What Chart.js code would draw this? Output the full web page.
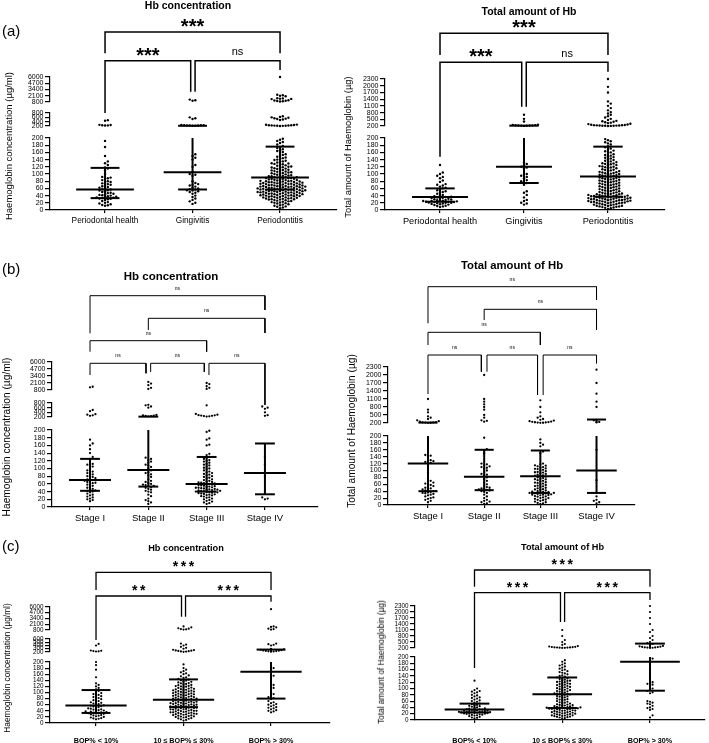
<!DOCTYPE html>
<html><head><meta charset="utf-8">
<script src="https://cdn.jsdelivr.net/npm/chart.js@4"></script>
<style>
html,body{margin:0;padding:0;background:#fff;}
#page{position:relative;width:709px;height:743px;overflow:hidden;font-family:"Liberation Sans",Arial,sans-serif;color:#000}
canvas{position:absolute;left:0;top:0}
.t{position:absolute;transform:translate(-50%,-50%);white-space:nowrap;font-weight:bold;line-height:1}
.yt{position:absolute;transform:translate(-50%,-50%) rotate(-90deg);white-space:nowrap;line-height:1}
.p{position:absolute;transform:translate(0,-50%);line-height:1}
</style></head><body>
<div id="page">
<canvas id="cA1" width="709" height="743"></canvas>
<canvas id="cA2" width="709" height="743"></canvas>
<canvas id="cB1" width="709" height="743"></canvas>
<canvas id="cB2" width="709" height="743"></canvas>
<canvas id="cC1" width="709" height="743"></canvas>
<canvas id="cC2" width="709" height="743"></canvas>
<div class="t" style="left:188px;top:5px;font-size:10.5px">Hb concentration</div>
<div class="t" style="left:529px;top:10.5px;font-size:10.5px">Total amount of Hb</div>
<div class="t" style="left:171px;top:277px;font-size:11.5px">Hb concentration</div>
<div class="t" style="left:512px;top:265.5px;font-size:11.3px">Total amount of Hb</div>
<div class="t" style="left:186px;top:548.5px;font-size:9.2px">Hb concentration</div>
<div class="t" style="left:562.5px;top:548px;font-size:9.2px">Total amount of Hb</div>
<div class="p" style="left:2px;top:30px;font-size:15px">(a)</div>
<div class="p" style="left:2px;top:268px;font-size:15px">(b)</div>
<div class="p" style="left:2px;top:545px;font-size:15px">(c)</div>
<div class="yt" style="left:8.5px;top:146px;font-size:9.5px">Haemoglobin concentration (µg/ml)</div>
<div class="yt" style="left:348px;top:147px;font-size:9.4px">Total amount of Haemoglobin (µg)</div>
<div class="yt" style="left:7px;top:437px;font-size:10.2px">Haemoglobin concentration (µg/ml)</div>
<div class="yt" style="left:352px;top:431px;font-size:10.2px">Total amount of Haemoglobin (µg)</div>
<div class="yt" style="left:7px;top:668px;font-size:8.3px">Haemoglobin concentration (µg/ml)</div>
<div class="yt" style="left:382px;top:662px;font-size:8.2px">Total amount of Haemoglobin (µg)</div>
</div>
<script>
// ---------------- categories & tick labels ----------------
const diagnosisCats = ["Periodontal health", "Gingivitis", "Periodontitis"];
const stageCats = ["Stage I", "Stage II", "Stage III", "Stage IV"];
const bopCats = ["BOP% < 10%", "10 \u2264 BOP% \u2264 30%", "BOP% > 30%"];

const lowTicks = [0,20,40,60,80,100,120,140,160,180,200];
const concMidTicks = [200,400,600,800];
const concMidTicksC = [200,300,400,500,600];
const concHighTicks = [800,2100,3400,4700,6000];
const totalHighTicks = [200,500,800,1100,1400,1700,2000,2300];

// ---------------- (a) Hb concentration by diagnosis ----------------
const concHealth = [12,13,14,16,18,20,22,25,28,30,31,32,33,34,35,36,37,38,40,41,42,44,45,47,48,50,52,54,55,57,58,60,62,64,66,68,70,72,74,76,78,80,83,86,88,90,92,100,110,115,118,125,130,135,150,175,192,220,228,236,244,252,440,470];
const concGingivitis = [17,20,24,28,32,36,40,45,48,50,52,54,55,57,58,60,62,65,68,70,72,75,80,95,98,100,105,120,125,140,145,150,155,212,216,220,224,228,232,236,240,245,520,560,600,1050,1150,1300];
const concPeriodontitis = [5,7,9,10,12,13,15,16,18,19,20,21,22,23,24,25,26,27,28,29,29,30,30,31,32,32,33,34,34,35,35,36,37,37,38,38,39,39,40,40,41,41,42,42,43,43,44,44,45,45,46,46,47,47,48,48,49,49,50,50,50,51,51,52,52,53,53,54,54,55,55,55,56,56,57,57,58,58,59,59,60,60,60,61,61,62,62,63,63,64,64,65,65,65,66,66,67,67,68,68,69,69,70,70,71,71,72,72,73,73,74,74,75,75,76,76,77,77,78,78,79,79,80,80,81,81,82,83,83,84,85,85,86,87,87,88,89,89,90,91,91,92,93,94,94,95,96,97,98,99,100,101,102,103,104,105,106,107,108,109,110,111,112,114,115,116,117,118,119,120,121,123,124,125,127,128,129,130,132,134,135,137,139,140,142,144,146,148,150,153,155,158,161,164,166,169,172,175,178,182,186,189,192,195,198,203,207,211,215,219,223,227,232,238,245,255,265,480,500,520,540,560,580,600,620,650,900,950,1000,1050,1100,1150,1400,1450,1500,1550,1600,2000,2100,2200,2300,6000];
const concDiagMedian = [57,105,90];
const concDiagQ1 = [33,57,57];
const concDiagQ3 = [117,210,176];
const concDiagSig = ["***","***","ns"];

// ---------------- (a) Total amount by diagnosis ----------------
const totHealth = [8,10,11,12,14,15,16,17,18,19,20,20,21,22,22,23,23,24,24,25,25,26,27,28,29,30,31,32,33,34,35,36,37,38,40,42,45,48,50,52,55,57,60,62,65,68,70,72,78,82,88,92,95,100,104,125];
const totGingivitis = [15,18,20,25,28,35,42,48,52,70,75,78,80,83,88,92,95,98,100,115,118,120,124,128,132,205,210,215,220,225,230,235,240,250,260,400,520,700];
const totPeriodontitis = [3,5,6,7,8,9,10,10,11,12,12,13,14,15,15,16,17,18,19,19,20,20,21,21,22,22,23,23,24,24,25,25,26,26,27,27,28,28,29,29,30,30,31,31,32,32,33,33,34,34,35,35,36,36,37,37,38,38,39,39,40,40,41,42,42,43,44,44,45,46,46,47,48,49,50,51,52,53,54,55,56,57,58,59,60,61,62,63,64,65,66,67,68,69,70,71,72,73,74,75,76,77,78,79,80,81,82,83,84,85,86,87,88,89,90,91,92,93,94,95,96,97,98,99,100,101,102,103,104,105,106,107,108,110,111,112,113,115,116,118,119,120,121,122,124,125,127,128,129,130,132,133,135,137,139,141,143,145,147,149,151,153,155,158,160,163,165,168,171,174,177,182,185,188,191,194,197,202,205,208,211,214,217,220,224,228,232,238,245,255,270,285,300,330,350,370,390,410,430,470,520,580,640,700,760,820,900,1000,1100,1200,1300,1700,1950,2300];
const totDiagMedian = [36,120,93];
const totDiagQ1 = [23,75,37];
const totDiagQ3 = [60,215,176];
const totDiagSig = ["***","***","ns"];

// ---------------- (b) Hb concentration by stage ----------------
const concStageI = [15,18,20,22,25,27,30,32,35,38,40,42,43,45,47,50,52,55,58,60,62,63,65,67,68,70,72,74,75,78,80,82,85,88,90,92,95,100,105,108,110,112,125,130,140,150,160,165,175,250,270,300,320,450,500,1300,1400];
const concStageII = [8,12,15,18,22,28,32,38,40,42,45,47,50,52,54,55,57,58,60,62,65,68,72,78,82,85,88,90,95,100,104,108,110,115,118,122,125,128,230,240,250,260,270,290,600,650,700,720,1000,1200,1700,2000,2300];
const concStageIII = [8,10,12,14,16,18,20,22,24,25,27,28,30,31,32,33,34,35,36,37,38,38,39,40,40,41,42,42,43,44,45,45,46,47,48,49,50,50,51,52,53,54,55,56,57,58,59,60,61,62,63,64,65,66,68,70,72,74,76,78,80,82,84,86,88,90,92,95,98,100,102,105,108,110,112,115,118,120,122,125,128,130,135,138,160,162,175,178,195,198,220,230,240,250,260,270,280,300,330,700,1000,1200,1500,1900,2100];
const concStageIV = [20,22,25,40,80,110,130,250,280,400,550,600,650];
const concStageMedian = [70,96,60,88];
const concStageQ1 = [42,53,40,33];
const concStageQ3 = [125,215,130,165];
const concStageSig = ["ns","ns","ns","ns","ns","ns"];

// ---------------- (b) Total amount by stage ----------------
const totStageI = [8,12,15,18,20,22,25,28,30,32,34,35,36,38,40,40,42,44,45,48,50,52,55,58,60,62,65,68,70,95,120,122,125,127,128,130,140,143,145,205,210,215,220,225,235,250,270,300,350,400,450,600,700,1100];
const totStageII = [3,5,8,10,12,15,20,25,30,35,38,40,42,44,45,46,48,50,52,55,60,65,70,75,80,85,88,90,95,100,105,108,110,112,115,118,120,150,158,162,195,250,280,300,400,500,700,800,900,1000,1100,2000];
const totStageIII = [3,5,6,8,10,12,14,15,16,18,20,20,22,24,25,26,28,29,30,30,31,32,33,34,35,35,36,37,38,39,40,42,44,45,46,48,50,52,54,55,56,58,60,62,64,65,66,68,70,72,74,75,76,78,80,82,84,85,86,88,90,92,94,95,96,98,100,102,104,105,106,108,110,112,114,115,118,120,150,155,170,175,180,190,205,210,215,220,228,236,245,255,270,290,320,350,400,450,600,800,1050];
const totStageIV = [5,8,12,15,25,35,72,160,220,240,300,320,800,1000,1300,1700,2200];
const totStageMedian = [120,82,83,100];
const totStageQ1 = [40,43,35,35];
const totStageQ3 = [215,160,158,330];
const totStageSig = ["ns","ns","ns","ns","ns","ns"];

// ---------------- (c) Hb concentration by BOP ----------------
const concBopLow = [12,14,15,16,18,20,22,24,25,26,28,30,31,32,33,34,35,36,37,38,40,41,42,44,45,47,48,50,52,54,55,57,58,60,62,64,66,68,70,72,75,78,80,82,85,88,90,92,95,98,100,105,110,115,120,125,130,150,175,190,200,215,222,230,238,246,400,450];
const concBopMid = [8,10,12,14,15,16,18,19,20,21,22,23,24,25,26,27,28,29,30,30,31,32,33,34,35,35,36,37,38,39,40,40,41,42,43,44,45,45,46,47,48,49,50,50,51,52,53,54,55,55,56,57,58,59,60,60,61,62,63,64,65,65,66,67,68,69,70,70,71,72,73,74,75,76,77,78,79,80,80,81,82,83,84,85,86,87,88,89,90,91,92,93,94,95,96,97,98,99,100,101,102,103,104,105,106,107,108,109,110,111,112,113,115,116,118,119,120,121,122,124,125,127,128,130,131,133,135,137,139,140,142,145,148,150,153,156,160,163,166,170,175,180,192,205,212,219,226,233,240,248,258,270,300,330,360,400,430,460,900,950,1000,1100,1200,1400,1600];
const concBopHigh = [35,38,40,42,45,48,50,52,55,58,60,62,65,68,72,78,82,85,88,95,100,110,115,120,125,130,150,155,175,180,185,210,216,222,228,234,240,248,256,266,278,300,400,420,440,460,900,1000,1100,1400,1500,1600,5500];
const concBopMedian = [57,76,168];
const concBopQ1 = [33,52,80];
const concBopQ3 = [108,143,275];
const concBopSig = ["***","**","***"];

// ---------------- (c) Total amount by BOP ----------------
const totBopLow = [5,7,8,10,12,14,15,16,17,18,19,20,20,21,22,22,23,24,24,25,25,26,26,27,28,28,29,30,30,31,32,33,34,35,36,37,38,40,42,44,45,47,48,50,52,55,58,60,62,65,68,70,72,75,78,80,85,88,90,92,95,100,125];
const totBopMid = [5,6,8,9,10,11,12,13,14,15,15,16,17,18,19,20,20,21,22,23,24,25,25,26,27,28,29,30,30,31,32,33,34,35,35,36,36,37,37,38,38,39,39,40,40,41,42,43,44,45,46,47,48,49,50,52,54,55,56,58,60,62,64,65,66,68,70,72,74,75,76,78,80,81,82,83,84,85,86,88,90,91,92,94,95,96,98,100,101,102,104,105,106,108,110,111,112,114,115,116,118,120,121,122,124,125,126,128,130,132,134,135,138,140,142,145,148,150,152,155,158,160,163,166,170,173,176,180,185,190,205,210,215,220,225,230,236,242,250,260,275,295,360,400,500,600,800,1100];
const totBopHigh = [8,15,32,35,38,40,45,50,52,55,58,60,85,88,92,95,100,110,112,115,118,120,130,140,150,160,175,190,195,205,212,220,228,236,245,255,268,285,305,360,400,450,500,600,700,800,1000,1100,1400,1700,2000,2300];
const totBopMedian = [33,82,185];
const totBopQ1 = [24,38,93];
const totBopQ3 = [52,135,420];
const totBopSig = ["***","***","***"];

// ---------------- helpers ----------------
const FONT = '"Liberation Sans", Arial, sans-serif';

function route(segs, v) {
  const ds = segs.filter(s => !s.hidden).sort((a, b) => a.min - b.min);
  for (const s of ds) if (v <= s.max) return s;
  return ds[ds.length - 1];
}

// beeswarm layout (pixel offsets) computed from the values
function swarm(ys, gap) {
  const order = ys.map((v, i) => i).sort((a, b) => ys[a] - ys[b]);
  const placed = [], off = new Array(ys.length);
  for (const i of order) {
    const y = ys[i];
    for (let k = 0; k < 400; k++) {
      const o = k === 0 ? 0 : (k % 2 ? 1 : -1) * Math.ceil(k / 2) * gap;
      let ok = true;
      for (const p of placed) {
        const dy = p.y - y;
        if (Math.abs(dy) < gap) {
          const dx = p.x - o;
          if (dx * dx + dy * dy < gap * gap * 0.92) { ok = false; break; }
        }
      }
      if (ok) { placed.push({x: o, y}); off[i] = o; break; }
    }
  }
  return off;
}

const sigPlugin = {
  id: 'sig',
  afterDatasetsDraw(chart, args, o) {
    const ctx = chart.ctx, xs = chart.scales.x, yb = chart.scales.yb;
    o.brackets.forEach((b, i) => {
      const text = o.labels[i];
      const star = text.indexOf('*') >= 0;
      const x = xs.getPixelForValue((b.x1 + b.x2) / 2);
      const y = yb.getPixelForValue(b.lvl) + (star ? o.starDy : o.nsDy);
      ctx.save();
      ctx.font = star ? o.starFont : o.nsFont;
      ctx.letterSpacing = star ? o.starSpacing : '0px';
      ctx.textAlign = 'center';
      ctx.textBaseline = 'alphabetic';
      ctx.fillStyle = '#000';
      ctx.fillText(text, x + (star ? parseFloat(o.starSpacing) / 2 : 0), y);
      ctx.restore();
    });
  }
};

function buildChart(id, c) {
  const sumH = c.segs.reduce((a, s) => a + s.h, 0);
  const top = c.axisY - sumH;
  const pxX = (c.xRight - c.axisX) / (c.xMax - c.xMin);
  const yW = 30, xH = 24;
  const datasets = [];
  const line = (pts, axis, w) => ({type: 'line', data: pts, yAxisID: axis, xAxisID: 'x', borderColor: '#000', borderWidth: w,
    pointRadius: 0, pointHoverRadius: 0, fill: false, tension: 0, clip: false, borderCapStyle: 'butt', borderJoinStyle: 'miter'});
  c.brackets.forEach(b => datasets.push(line([{x: b.x1, y: b.l1}, {x: b.x1, y: b.lvl}, {x: b.x2, y: b.lvl}, {x: b.x2, y: b.l2}], 'yb', c.bracketW)));
  c.groups.forEach((vals, g) => {
    const m = c.med[g], a = c.q1[g], z = c.q3[g];
    datasets.push(line([{x: g - c.medW, y: m}, {x: g + c.medW, y: m}], route(c.segs, m).id, c.barW));
    datasets.push(line([{x: g - c.qW, y: a}, {x: g + c.qW, y: a}], route(c.segs, a).id, c.barW));
    datasets.push(line([{x: g - c.qW, y: z}, {x: g + c.qW, y: z}], route(c.segs, z).id, c.barW));
    c.segs.filter(s => !s.hidden).forEach(s => {
      const lo = Math.max(a, s.min), hi = Math.min(z, s.max);
      if (hi > lo) datasets.push(line([{x: g, y: lo}, {x: g, y: hi}], s.id, c.barW));
    });
  });
  c.groups.forEach((vals, g) => {
    c.segs.filter(s => !s.hidden).forEach(s => {
      const sv = vals.filter(v => route(c.segs, v) === s);
      if (!sv.length) return;
      const pxY = s.h / (s.max - s.min);
      const offs = swarm(sv.map(v => (v - s.min) * pxY), c.gap);
      datasets.push({type: 'scatter', data: sv.map((v, i) => ({x: g + offs[i] / pxX, y: v})), yAxisID: s.id, xAxisID: 'x',
        pointRadius: c.r, pointHoverRadius: c.r, pointBackgroundColor: '#000', pointBorderWidth: 0, showLine: false, clip: false});
    });
  });
  const scales = {
    x: {type: 'linear', position: 'bottom', min: c.xMin, max: c.xMax,
      afterBuildTicks: sc => { sc.ticks = c.cats.map((n, i) => ({value: i})); },
      afterFit: sc => { sc.height = xH; },
      ticks: {autoSkip: false, maxRotation: 0, minRotation: 0, padding: c.xPad, color: '#000',
        font: {family: c.xFamily || FONT, size: c.xSize, weight: c.xWeight || 'normal'}, callback: v => c.cats[v]},
      grid: {display: true, drawOnChartArea: false, drawTicks: true, tickLength: 3, color: '#000', lineWidth: c.axisW},
      border: {display: true, color: '#000', width: c.axisW}}
  };
  c.segs.forEach((s, i) => {
    const weight = c.segs.length - i;
    if (s.hidden) {
      scales[s.id] = {type: 'linear', position: 'left', stack: 'y', stackWeight: s.h, weight, display: false, min: 0, max: s.id === 'yb' ? s.h : 1};
    } else {
      scales[s.id] = {type: 'linear', position: 'left', stack: 'y', stackWeight: s.h, weight, min: s.min, max: s.max,
        afterBuildTicks: sc => { sc.ticks = s.ticks.map(v => ({value: v})); },
        afterFit: sc => { sc.width = yW; },
        ticks: {autoSkip: false, font: {family: FONT, size: c.yTickSize}, color: '#000', padding: 1.5, callback: v => String(v)},
        grid: {display: true, drawOnChartArea: false, drawTicks: true, tickLength: 5, color: '#000', lineWidth: c.axisW},
        border: {display: true, color: '#000', width: c.axisW}};
    }
  });
  return new Chart(document.getElementById(id), {
    type: 'scatter',
    data: {datasets},
    options: {
      responsive: false, animation: false, devicePixelRatio: 1, events: [],
      layout: {padding: {left: c.axisX - yW, top: top, right: 709 - c.xRight, bottom: 743 - c.axisY - xH}},
      plugins: {legend: {display: false}, tooltip: {enabled: false}, title: {display: false},
        sig: {brackets: c.brackets, labels: c.sig, starFont: c.starFont, starSpacing: c.starSpacing, nsFont: c.nsFont, starDy: c.starDy, nsDy: c.nsDy}},
      scales
    },
    plugins: [sigPlugin]
  });
}

const seg3 = (yb, hi, g2, mid, g1, lo, midTicks) => [
  {id: 'yb', h: yb, hidden: true},
  {id: 'hi', h: hi, min: 800, max: 6000, ticks: concHighTicks},
  {id: 'g2', h: g2, hidden: true},
  {id: 'mid', h: mid, min: 200, max: midTicks[midTicks.length - 1], ticks: midTicks},
  {id: 'g1', h: g1, hidden: true},
  {id: 'lo', h: lo, min: 0, max: 200, ticks: lowTicks}
];
const seg2 = (yb, hi, g, lo) => [
  {id: 'yb', h: yb, hidden: true},
  {id: 'hi', h: hi, min: 200, max: 2300, ticks: totalHighTicks},
  {id: 'g1', h: g, hidden: true},
  {id: 'lo', h: lo, min: 0, max: 200, ticks: lowTicks}
];

const styleA = {yTickSize: 7, axisW: 1.2, barW: 2, bracketW: 1.5, gap: 2.8, r: 1.2,
  starFont: 'bold 20px ' + FONT, starSpacing: '0px', nsFont: '11px ' + FONT, starDy: 1, nsDy: -5.8};
const styleB = {yTickSize: 7, axisW: 1.2, barW: 2, bracketW: 1, gap: 2.7, r: 1.15,
  starFont: 'bold 14px ' + FONT, starSpacing: '0px', nsFont: '5px ' + FONT, starDy: 0, nsDy: -6};
const styleC = {yTickSize: 6.3, axisW: 1.2, barW: 2, bracketW: 1.3, gap: 2.6, r: 1.1,
  starFont: 'bold 14px ' + FONT, starSpacing: '2.5px', nsFont: '9px ' + FONT, starDy: -1, nsDy: -5,
  xFamily: '"Liberation Sans Narrow", "Arial Narrow", "Liberation Sans", Arial, sans-serif', xWeight: 'bold', xSize: 7.2};

buildChart('cA1', Object.assign({}, styleA, {
  cats: diagnosisCats, groups: [concHealth, concGingivitis, concPeriodontitis],
  med: concDiagMedian, q1: concDiagQ1, q3: concDiagQ3, sig: concDiagSig,
  axisX: 50, xRight: 337, axisY: 210, xMin: -0.629, xMax: 2.651, xSize: 8.3, xPad: 3,
  medW: 0.33, qW: 0.165, segs: seg3(62, 25, 11, 13, 12, 72, concMidTicks),
  brackets: [{x1: 0, x2: 2, lvl: 45, l1: 23.7, l2: 23.7}, {x1: 0, x2: 0.979, lvl: 16.3, l1: -36, l2: -14.7}, {x1: 1.029, x2: 2, lvl: 16.3, l1: -14.7, l2: 7}]
}));
buildChart('cA2', Object.assign({}, styleA, {
  cats: diagnosisCats, groups: [totHealth, totGingivitis, totPeriodontitis],
  med: totDiagMedian, q1: totDiagQ1, q3: totDiagQ3, sig: totDiagSig,
  axisX: 385, xRight: 665, axisY: 210, xMin: -0.655, xMax: 2.679, xSize: 9.2, xPad: 2.5,
  medW: 0.333, qW: 0.175, segs: seg2(64, 47, 12, 72),
  brackets: [{x1: 0, x2: 2, lvl: 45.7, l1: 24, l2: 24}, {x1: 0, x2: 0.973, lvl: 16.7, l1: -77.7, l2: -27.7}, {x1: 1.027, x2: 2, lvl: 16.7, l1: -27.7, l2: 7.3}]
}));
buildChart('cB1', Object.assign({}, styleB, {
  cats: stageCats, groups: [concStageI, concStageII, concStageIII, concStageIV],
  med: concStageMedian, q1: concStageQ1, q3: concStageQ3, sig: concStageSig,
  axisX: 52, xRight: 318, axisY: 507, xMin: -0.652, xMax: 3.91, xSize: 9.5, xPad: 3,
  medW: 0.36, qW: 0.17, segs: seg3(80, 28, 13, 14, 13, 77, concMidTicks),
  brackets: [{x1: 0, x2: 3, lvl: 66.3, l1: 28.7, l2: 52}, {x1: 1, x2: 3, lvl: 43.7, l1: 32, l2: 29}, {x1: 0, x2: 2, lvl: 21.3, l1: 10.3, l2: 10.3},
    {x1: 0, x2: 0.96, lvl: -1.3, l1: -13, l2: -11.3}, {x1: 1.04, x2: 1.96, lvl: -1.3, l1: -10, l2: -10}, {x1: 2.04, x2: 3, lvl: -1.3, l1: -13, l2: -43}]
}));
buildChart('cB2', Object.assign({}, styleB, {
  cats: stageCats, groups: [totStageI, totStageII, totStageIII, totStageIV],
  med: totStageMedian, q1: totStageQ1, q3: totStageQ3, sig: totStageSig,
  axisX: 388, xRight: 635, axisY: 505, xMin: -0.712, xMax: 3.685, xSize: 9.5, xPad: 3,
  medW: 0.36, qW: 0.17, segs: seg2(97, 56, 13, 69),
  brackets: [{x1: 0, x2: 3, lvl: 80.3, l1: 43.7, l2: 67}, {x1: 1, x2: 3, lvl: 57.7, l1: 47, l2: 37}, {x1: 0, x2: 2, lvl: 34.7, l1: 22, l2: 22},
    {x1: 0, x2: 0.95, lvl: 12, l1: -27, l2: -4.7}, {x1: 1.05, x2: 1.95, lvl: 12, l1: -4.7, l2: -28}, {x1: 2.05, x2: 3, lvl: 12, l1: -28, l2: 3.7}]
}));
buildChart('cC1', Object.assign({}, styleC, {
  cats: bopCats, groups: [concBopLow, concBopMid, concBopHigh],
  med: concBopMedian, q1: concBopQ1, q3: concBopQ3, sig: concBopSig,
  axisX: 50, xRight: 330, axisY: 723, xMin: -0.526, xMax: 2.674, xPad: 10.5,
  medW: 0.35, qW: 0.165, segs: seg3(52, 23, 9, 13, 10, 61, concMidTicksC),
  brackets: [{x1: 0, x2: 2, lvl: 34.7, l1: 17, l2: 17}, {x1: 0, x2: 0.977, lvl: 11, l1: -33, l2: -9.7}, {x1: 1.023, x2: 2, lvl: 11, l1: -9.7, l2: 5.3}]
}));
buildChart('cC2', Object.assign({}, styleC, {
  cats: bopCats, groups: [totBopLow, totBopMid, totBopHigh],
  med: totBopMedian, q1: totBopQ1, q3: totBopQ3, sig: totBopSig,
  axisX: 415, xRight: 705, axisY: 720, xMin: -0.678, xMax: 2.627, xPad: 13.5,
  medW: 0.34, qW: 0.17, segs: seg2(51, 42, 9, 63),
  brackets: [{x1: 0, x2: 2, lvl: 36, l1: 19.3, l2: 19.3}, {x1: 0, x2: 0.98, lvl: 13.3, l1: -62, l2: -16}, {x1: 1.027, x2: 2, lvl: 13.3, l1: -16, l2: 6}]
}));
</script>
</body></html>
